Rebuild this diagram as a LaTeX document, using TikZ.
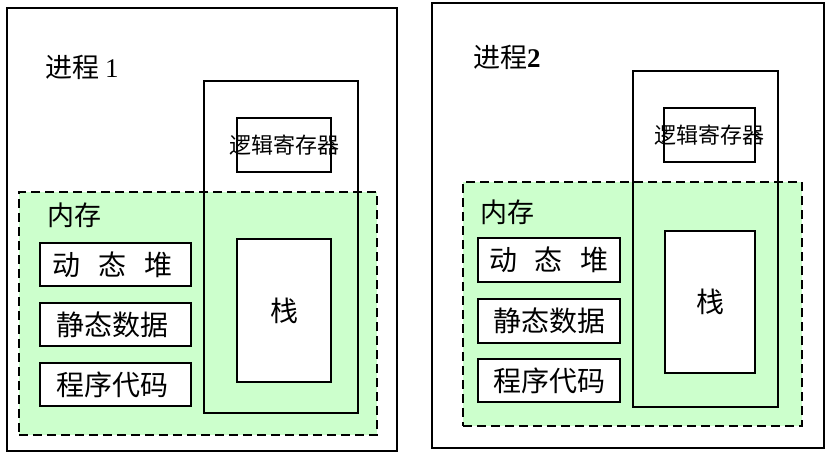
\documentclass[tikz,border=0pt]{standalone}
\usepackage{fontspec}
\setmainfont{Liberation Serif}
\newfontfamily\cjk{Noto Sans CJK SC}
\definecolor{memgreen}{RGB}{204,255,204}
\tikzset{
  frame/.style={draw, line width=2.3pt, inner sep=0pt},
  whitebox/.style={draw, line width=2.3pt, inner sep=0pt, fill=white},
  memarea/.style={draw, line width=2.3pt, dash pattern=on 9pt off 5pt, inner sep=0pt, fill=memgreen},
  bigtxt/.style={font=\cjk\fontsize{28}{30}\selectfont},
  regtxt/.style={font=\cjk\fontsize{22}{24}\selectfont},
  titletxt/.style={inner sep=0pt, anchor=west, font=\cjk\fontsize{27}{30}\selectfont},
}
\begin{document}
\begin{tikzpicture}[x=1pt,y=-1pt]
\useasboundingbox (0,0) rectangle (831,452);
% ---------- process 1 ----------
\node[frame, minimum width=390pt, minimum height=443pt] (p1) at (202,229.5) {};
\node[titletxt] (t1) at (45,67) {进程\ {\rmfamily\fontsize{27}{30}\selectfont 1}};
\node[memarea, minimum width=358pt, minimum height=243pt] (m1) at (198,313.5) {};
\node[frame, minimum width=154pt, minimum height=332pt] (r1) at (281,247) {};
\node[whitebox, regtxt, minimum width=94pt, minimum height=54pt] (ri1) at (284,145) {\makebox[0pt]{逻辑寄存器}};
\node[whitebox, bigtxt, minimum width=94pt, minimum height=143pt] (s1) at (284,310.5) {栈};
\node[titletxt] (ml1) at (47,215) {内存};
\node[whitebox, bigtxt, minimum width=151pt, minimum height=43pt] (h1) at (115.5,264.5) {\hspace*{-6pt}动\hspace{18pt}态\hspace{18pt}堆};
\node[whitebox, bigtxt, minimum width=151pt, minimum height=43pt] (d1) at (115.5,324.5) {\hspace*{-6pt}静态数据};
\node[whitebox, bigtxt, minimum width=151pt, minimum height=43pt] (c1) at (115.5,384.5) {\hspace*{-6pt}程序代码};
% ---------- process 2 ----------
\node[frame, minimum width=392pt, minimum height=445pt] (p2) at (628,225.5) {};
\node[titletxt] (t2) at (473,57) {进程{\rmfamily\bfseries\fontsize{27}{30}\selectfont 2}};
\node[memarea, minimum width=339pt, minimum height=244pt] (m2) at (632.5,304) {};
\node[frame, minimum width=145pt, minimum height=336pt] (r2) at (705.5,239) {};
\node[whitebox, regtxt, minimum width=91pt, minimum height=54pt] (ri2) at (709.5,135) {\makebox[0pt]{逻辑寄存器}};
\node[whitebox, bigtxt, minimum width=90pt, minimum height=142pt] (s2) at (710,302) {栈};
\node[titletxt] (ml2) at (480,212) {内存};
\node[whitebox, bigtxt, minimum width=142pt, minimum height=44pt] (h2) at (549,260) {动\hspace{18pt}态\hspace{18pt}堆};
\node[whitebox, bigtxt, minimum width=142pt, minimum height=44pt] (d2) at (549,321) {静态数据};
\node[whitebox, bigtxt, minimum width=142pt, minimum height=43pt] (c2) at (549,380.5) {程序代码};
\end{tikzpicture}
\end{document}
